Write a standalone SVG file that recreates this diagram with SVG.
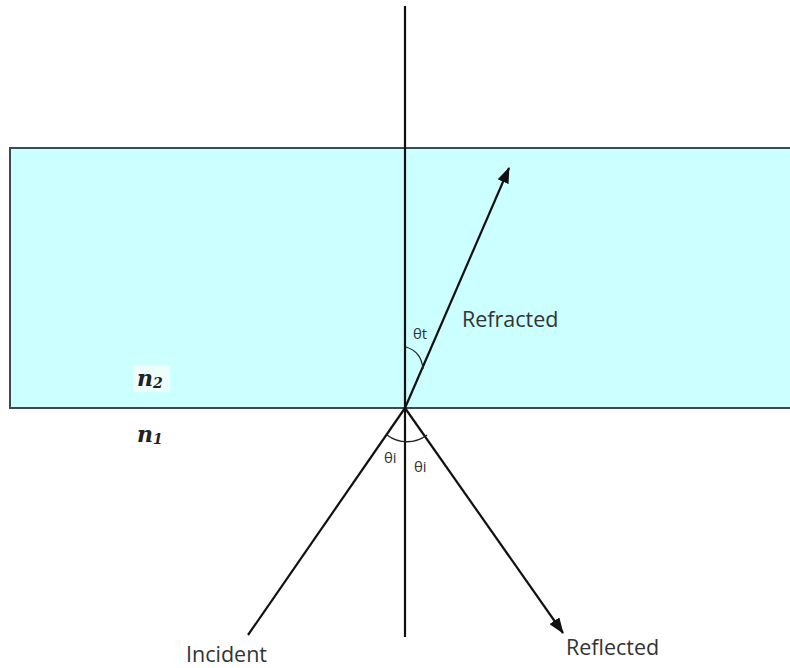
<svg xmlns="http://www.w3.org/2000/svg" width="790" height="668" viewBox="0 0 790 668">
<defs>
<marker id="arrow" markerWidth="16" markerHeight="12" refX="15" refY="6" orient="auto" markerUnits="userSpaceOnUse">
<path d="M0,0 L16,6 L0,12 Z" fill="#111"/>
</marker>
<style>
.ray{stroke:#111;stroke-width:2.2;fill:none}
.arc{stroke:#222;stroke-width:1.3;fill:none}
.lbl{font-family:"Open Sans","Liberation Sans",sans-serif;font-size:21.5px;fill:#333}
.ang{font-family:"Open Sans","Liberation Sans",sans-serif;font-size:15px;fill:#333}
.n{font-family:"DejaVu Serif","Liberation Serif",serif;font-style:italic;font-weight:bold;font-size:22px;fill:#222}
</style>
</defs>
<rect width="790" height="668" fill="#ffffff"/>
<g id="medium">
<rect x="10" y="148" width="782" height="260" fill="#ccffff" stroke="#3d4a4f" stroke-width="2"/>
<rect x="133" y="366" width="37" height="26" fill="#eefefe"/>
</g>
<g id="connectors">
<line id="normal" class="ray" x1="405" y1="6" x2="405" y2="637"/>
<line id="incident-ray" class="ray" x1="248" y1="635" x2="405" y2="408"/>
<line id="refracted-ray" class="ray" x1="405" y1="408" x2="509" y2="168" marker-end="url(#arrow)"/>
<line id="reflected-ray" class="ray" x1="405" y1="408" x2="563" y2="633" marker-end="url(#arrow)"/>
<path class="arc" d="M406,347 C416,350 422,358 423,369"/>
<path class="arc" d="M387,435 A33,33 0 0 0 427,435"/>
</g>
<g id="labels">
<text class="lbl" x="186" y="662">Incident</text>
<text class="lbl" x="462" y="327">Refracted</text>
<text class="lbl" x="566" y="655">Reflected</text>
<text class="ang" x="413" y="339">θt</text>
<text class="ang" x="384" y="463">θi</text>
<text class="ang" x="414" y="472">θi</text>
<text class="n" x="137" y="386">n<tspan font-size="14" dy="2">2</tspan></text>
<text class="n" x="137" y="442">n<tspan font-size="14" dy="2">1</tspan></text>
</g>
</svg>
